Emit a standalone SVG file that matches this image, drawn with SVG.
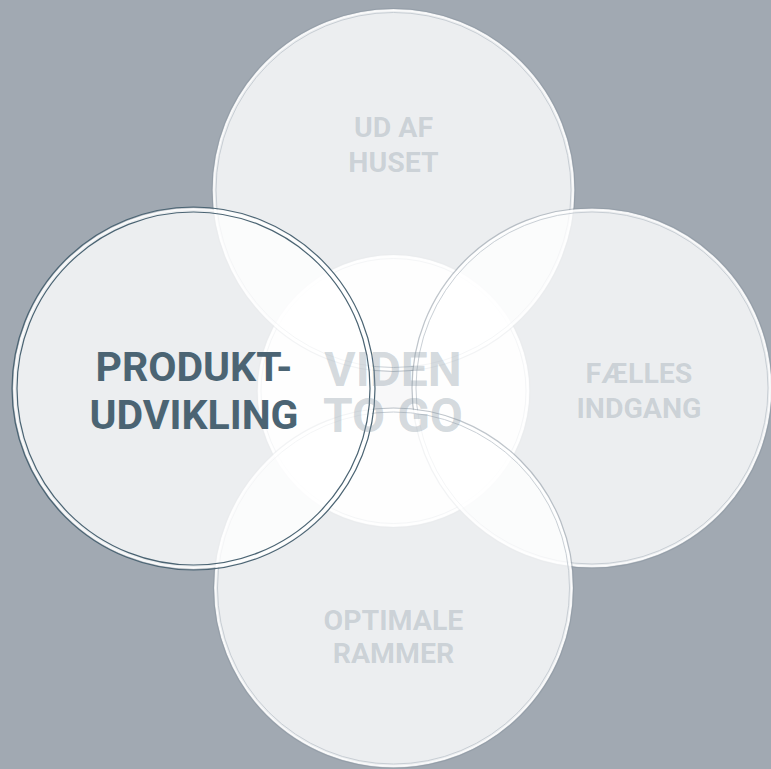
<svg xmlns="http://www.w3.org/2000/svg" width="771" height="769" viewBox="0 0 771 769">
<style>
.fill{fill:#ffffff;fill-opacity:0.8;stroke:#ffffff;stroke-opacity:0.85;stroke-width:2}
.cfill{fill:#ffffff;fill-opacity:0.92;stroke:#ffffff;stroke-opacity:0.85;stroke-width:2}
.outer{fill:none;stroke:#8a96a1;stroke-opacity:0.55;stroke-width:1.2}
.inner{fill:none;stroke:#c3cad0;stroke-opacity:0.9;stroke-width:1}
.hl{fill:none;stroke:#4b6473;stroke-width:1.2}
.lbl{font-family:Roboto,"Liberation Sans",sans-serif;font-weight:bold;text-anchor:middle;fill:#8797a3;fill-opacity:0.32;font-size:28.5px}
.big{font-size:48px;fill-opacity:0.36}
.main{font-family:Roboto,"Liberation Sans",sans-serif;font-weight:bold;text-anchor:middle;fill:#4b6473;font-size:41px}
</style>
<rect width="771" height="769" fill="#a1a9b2"/>
<g id="center-circle">
<circle class="cfill" cx="393.5" cy="391" r="135"/>
<circle class="outer" cx="393.5" cy="391" r="136.5"/>
<circle class="inner" cx="393.5" cy="391" r="132.5"/>
</g>
<g id="top-circle">
<circle class="fill" cx="393.5" cy="190" r="180"/>
<circle class="outer" cx="393.5" cy="190" r="181.5"/>
<circle class="inner" cx="393.5" cy="190" r="177.5"/>
</g>
<g id="right-circle">
<circle class="fill" cx="592" cy="388" r="178.5"/>
<circle class="outer" cx="592" cy="388" r="180"/>
<circle class="inner" cx="592" cy="388" r="176"/>
</g>
<g id="bottom-circle">
<circle class="fill" cx="393.5" cy="588" r="178.5"/>
<circle class="outer" cx="393.5" cy="588" r="180"/>
<circle class="inner" cx="393.5" cy="588" r="176"/>
</g>
<g id="left-circle">
<circle class="fill" cx="193.5" cy="388.5" r="179.5"/>
<circle class="hl" cx="193.5" cy="388.5" r="181.5"/>
<circle class="hl" cx="193.5" cy="388.5" r="176.5"/>
</g>
<g id="labels">
<text class="lbl" x="393.5" y="137">UD AF</text>
<text class="lbl" x="393.5" y="172">HUSET</text>
<text class="lbl" x="639" y="383">FÆLLES</text>
<text class="lbl" x="639" y="418">INDGANG</text>
<text class="lbl" x="393.5" y="630">OPTIMALE</text>
<text class="lbl" x="393.5" y="663">RAMMER</text>
<text class="lbl big" x="393" y="386">VIDEN</text>
<text class="lbl big" x="393" y="432">TO GO</text>
<text class="main" x="194" y="380.5">PRODUKT-</text>
<text class="main" x="194" y="428.5">UDVIKLING</text>
</g>
</svg>
